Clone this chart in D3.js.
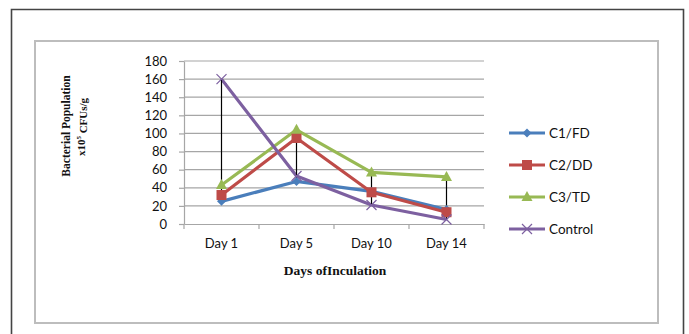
<!DOCTYPE html>
<html>
<head>
<meta charset="utf-8">
<script src="https://cdn.jsdelivr.net/npm/d3@7"></script>
<style>
  html, body { margin: 0; padding: 0; background: #fff; }
  svg { display: block; }
</style>
</head>
<body>
<svg id="chart" width="689" height="334"></svg>
<script>
// Bacterial population (x10^5 CFUs/g) over incubation days
const categories = ["Day 1", "Day 5", "Day 10", "Day 14"];
const seriesNames = ["C1/FD", "C2/DD", "C3/TD", "Control"];
const c1fd = [25, 47, 36, 16];
const c2dd = [32, 95, 35, 13];
const c3td = [43, 104, 57, 52];
const control = [160, 53, 21, 5];
const yTicks = [0, 20, 40, 60, 80, 100, 120, 140, 160, 180];
const colors = ["#4a7ebb", "#be4b48", "#98b954", "#7d60a0"];
const markers = ["diamond", "square", "triangle", "cross"];

const seriesValues = [c1fd, c2dd, c3td, control];
const series = seriesNames.map((name, i) => ({
  name, values: seriesValues[i], color: colors[i], marker: markers[i]
}));

const svg = d3.select("#chart");

// frames
svg.append("path")
  .attr("d", "M11.5,340 V9.5 H683.5 V340")
  .attr("fill", "none").attr("stroke", "#444").attr("stroke-width", 1.6);
svg.append("rect")
  .attr("x", 35).attr("y", 41).attr("width", 623).attr("height", 282)
  .attr("fill", "#fff").attr("stroke", "#bdbdbd").attr("stroke-width", 2);

const plot = { left: 184, right: 484, top: 61, bottom: 224 };

const x = d3.scaleBand().domain(categories).range([plot.left, plot.right]);
const y = d3.scaleLinear().domain([0, 180]).range([plot.bottom, plot.top]);

// gridlines
svg.append("g")
  .selectAll("line").data(yTicks.filter(d => d > 0)).join("line")
  .attr("x1", plot.left).attr("x2", plot.right)
  .attr("y1", d => y(d)).attr("y2", d => y(d))
  .attr("stroke", "#a6a6a6").attr("stroke-width", 1.2);

// y axis
const yAxis = svg.append("g")
  .attr("transform", `translate(${plot.left},0)`)
  .call(d3.axisLeft(y).tickValues(yTicks).tickSize(5).tickPadding(12).tickSizeOuter(0));
yAxis.select(".domain").attr("stroke", "#a6a6a6").attr("stroke-width", 1.2);
yAxis.selectAll(".tick line").attr("stroke", "#a6a6a6").attr("stroke-width", 1.2);
yAxis.selectAll(".tick text")
  .attr("font-family", "Lato, 'Open Sans', sans-serif")
  .attr("font-size", 13).attr("fill", "#111");

// x axis
const xAxis = svg.append("g")
  .attr("transform", `translate(0,${plot.bottom})`)
  .call(d3.axisBottom(x).tickSize(0).tickPadding(15));
xAxis.select(".domain").attr("stroke", "#a6a6a6").attr("stroke-width", 1.2);
xAxis.selectAll(".tick text")
  .attr("font-family", "Lato, 'Open Sans', sans-serif")
  .attr("font-size", 13).attr("fill", "#111");
// tick marks between categories
svg.append("g").selectAll("line")
  .data(categories.map(c => x(c)).concat([plot.right]))
  .join("line")
  .attr("x1", d => d).attr("x2", d => d)
  .attr("y1", plot.bottom).attr("y2", plot.bottom + 5)
  .attr("stroke", "#a6a6a6").attr("stroke-width", 1.2);

const cx = c => x(c) + x.bandwidth() / 2;

// series lines
const line = d3.line().x((d, i) => cx(categories[i])).y(d => y(d));
series.forEach(s => {
  svg.append("path")
    .attr("d", line(s.values))
    .attr("fill", "none").attr("stroke", s.color)
    .attr("stroke-width", 3.2).attr("stroke-linejoin", "round");
});

// high-low lines
svg.append("g").selectAll("line").data(categories).join("line")
  .attr("x1", d => cx(d)).attr("x2", d => cx(d))
  .attr("y1", (d, i) => y(d3.max(seriesValues, v => v[i])))
  .attr("y2", (d, i) => y(d3.min(seriesValues, v => v[i])))
  .attr("stroke", "#000").attr("stroke-width", 1.2);

function drawMarker(g, type, color, px, py) {
  if (type === "diamond") {
    g.append("path").attr("d", `M${px},${py - 4.5} L${px + 4.5},${py} L${px},${py + 4.5} L${px - 4.5},${py} Z`)
      .attr("fill", color);
  } else if (type === "square") {
    g.append("rect").attr("x", px - 5).attr("y", py - 5).attr("width", 10).attr("height", 10)
      .attr("fill", color);
  } else if (type === "triangle") {
    g.append("path").attr("d", `M${px},${py - 6} L${px + 5.5},${py + 4} L${px - 5.5},${py + 4} Z`)
      .attr("fill", color);
  } else {
    g.append("path").attr("d", `M${px - 5},${py - 5} L${px + 5},${py + 5} M${px - 5},${py + 5} L${px + 5},${py - 5}`)
      .attr("stroke", color).attr("stroke-width", 1.2).attr("fill", "none");
  }
}

// markers
series.forEach(s => {
  const g = svg.append("g");
  s.values.forEach((v, i) => drawMarker(g, s.marker, s.color, cx(categories[i]), y(v)));
});

// legend
const legend = svg.append("g");
series.forEach((s, i) => {
  const ly = 133 + i * 32;
  legend.append("line").attr("x1", 509).attr("x2", 545).attr("y1", ly).attr("y2", ly)
    .attr("stroke", s.color).attr("stroke-width", 3.2);
  drawMarker(legend, s.marker, s.color, 527, ly);
  legend.append("text").attr("x", 549).attr("y", ly).attr("dy", "0.35em")
    .attr("font-family", "Lato, 'Open Sans', sans-serif").attr("font-size", 13.5)
    .attr("fill", "#111").text(s.name);
});

// axis titles
const yTitle = svg.append("text")
  .attr("transform", "translate(66,126) rotate(-90)")
  .attr("text-anchor", "middle")
  .attr("font-family", "'Liberation Serif', 'DejaVu Serif', serif")
  .attr("font-weight", "bold").attr("font-size", 11.5).attr("fill", "#111");
yTitle.append("tspan").attr("x", 0).attr("dy", "0.35em").text("Bacterial Population");
const yTitle2 = svg.append("text")
  .attr("transform", "translate(81,127) rotate(-90)")
  .attr("text-anchor", "middle")
  .attr("font-family", "'Liberation Serif', 'DejaVu Serif', serif")
  .attr("font-weight", "bold").attr("font-size", 11).attr("fill", "#111");
yTitle2.append("tspan").attr("dy", "0.35em").text("x10");
yTitle2.append("tspan").attr("font-size", 7).attr("dy", "-0.5em").text("5");
yTitle2.append("tspan").attr("dy", "0.5em").text(" CFUs/g");

svg.append("text")
  .attr("x", 335).attr("y", 270).attr("dy", "0.35em")
  .attr("text-anchor", "middle")
  .attr("font-family", "'Liberation Serif', 'DejaVu Serif', serif")
  .attr("font-weight", "bold").attr("font-size", 13.5).attr("fill", "#111")
  .text("Days ofInculation");
</script>
</body>
</html>
